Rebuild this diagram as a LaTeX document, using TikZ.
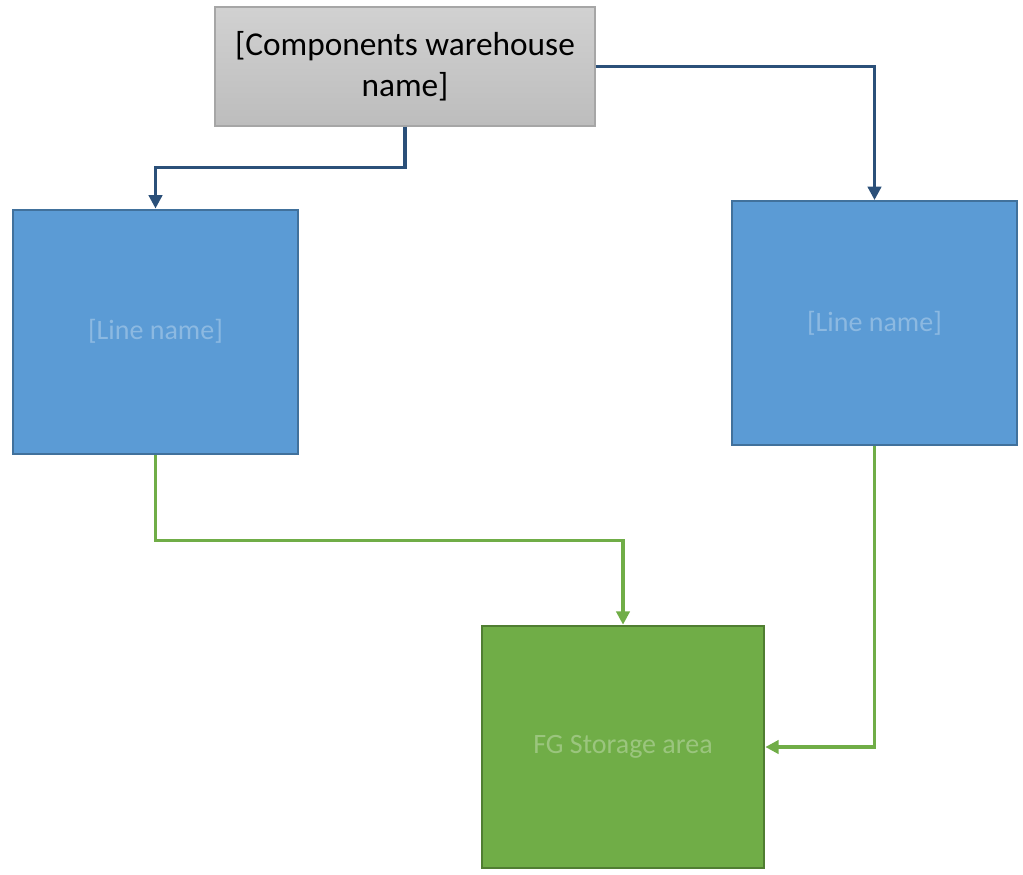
\documentclass[tikz,border=0pt]{standalone}
\usepackage{fontspec}
\setmainfont{Carlito}
\usepackage{tikz}
\usetikzlibrary{arrows.meta}

\definecolor{boxblue}{HTML}{5B9BD5}
\definecolor{edgeblue}{HTML}{41719C}
\definecolor{boxgreen}{HTML}{70AD47}
\definecolor{edgegreen}{HTML}{507E32}
\definecolor{linkblue}{HTML}{2B5079}
\tikzset{every picture/.style={x=0.75pt,y=-0.75pt}}
\tikzset{
  whbox/.style={draw=black!35, line width=1pt, top color=black!18, bottom color=black!26,
    minimum width=285pt, minimum height=89pt, align=center,
    font=\fontsize{25}{31}\selectfont},
  linebox/.style={draw=edgeblue, line width=1.5pt, fill=boxblue, minimum width=214pt,
    minimum height=183pt, text=white, text opacity=0.3, font=\fontsize{21}{24}\selectfont},
  fgbox/.style={draw=edgegreen, line width=1.5pt, fill=boxgreen, minimum width=212pt,
    minimum height=182pt, text=white, text opacity=0.3, font=\fontsize{21}{24}\selectfont},
  bluelink/.style={draw=linkblue, line width=2.4pt, -{Triangle[length=10pt,width=10pt]}},
  greenlink/.style={draw=boxgreen, line width=2.4pt, -{Triangle[length=10pt,width=10pt]}}
}

\begin{document}
\begin{tikzpicture}
    % canvas
    \useasboundingbox (0,0) rectangle (1023,874);
    % boxes
    \node[whbox] (wh) at (405,66.5) {[Components warehouse\\ name]};
    \node[linebox] (lineA) at (155.5,331.5) {[Line name]};
    \node[linebox] (lineB) at (874.5,323) {[Line name]};
    \node[fgbox] (fg) at (623,747) {FG Storage area};
    % links
    \draw[bluelink] (wh.south) -- ++(0,41) -| (lineA.north);
    \draw[bluelink] (wh.east) -| (lineB.north);
    \draw[greenlink] (lineA.south) -- ++(0,86) -| (fg.north);
    \draw[greenlink] (lineB.south) |- (fg.east);
\end{tikzpicture}
\end{document}
